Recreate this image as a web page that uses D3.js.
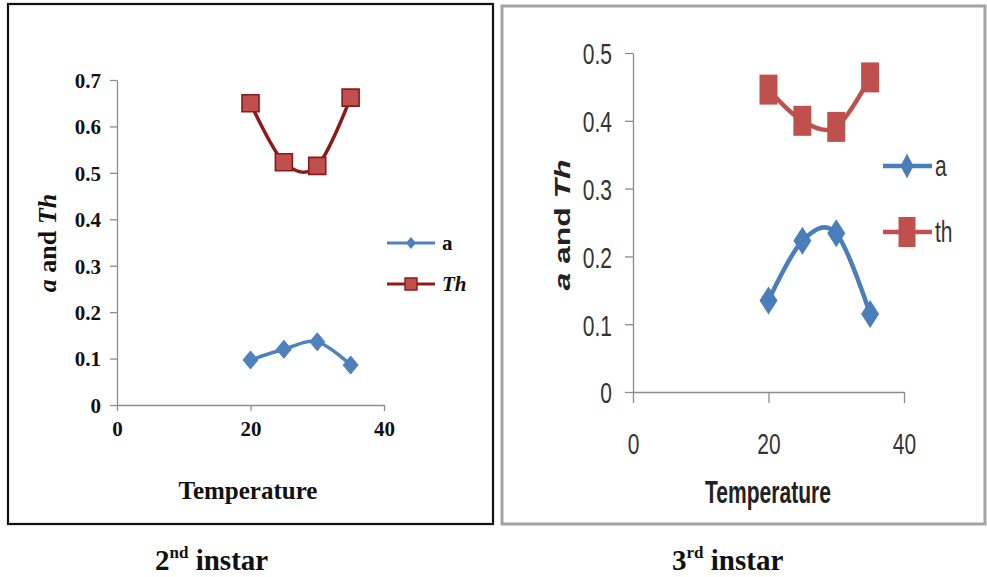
<!DOCTYPE html>
<html>
<head>
<meta charset="utf-8">
<script src="https://cdn.jsdelivr.net/npm/d3@7"></script>
<style>
  html, body { margin: 0; padding: 0; background: #fff; }
  svg { display: block; }
</style>
</head>
<body>
<svg id="chart" width="987" height="577"></svg>
<script>
// ---------- data ----------
const temps = [20, 25, 30, 35];
const xTicks = [0, 20, 40];
// 2nd instar
const a2 = [0.097, 0.120, 0.136, 0.086];
const th2 = [0.650, 0.523, 0.515, 0.662];
const yTicks2 = [0, 0.1, 0.2, 0.3, 0.4, 0.5, 0.6, 0.7];
// 3rd instar
const a3 = [0.135, 0.223, 0.234, 0.115];
const th3 = [0.446, 0.400, 0.391, 0.464];
const yTicks3 = [0, 0.1, 0.2, 0.3, 0.4, 0.5];
const legend2 = ["a", "Th"];
const legend3 = ["a", "th"];
const captions = [["2", "nd", " instar"], ["3", "rd", " instar"]];

const svg = d3.select("#chart");
svg.append("rect").attr("width", 987).attr("height", 577).attr("fill", "#fff");

function diamond(w, h) {
  return `M0,${-h/2}L${w/2},0L0,${h/2}L${-w/2},0Z`;
}
function square(w, h) {
  return `M${-w/2},${-h/2}H${w/2}V${h/2}H${-w/2}Z`;
}

// ---------- panel borders ----------
svg.append("rect").attr("x", 8).attr("y", 4).attr("width", 485).attr("height", 520)
  .attr("fill", "none").attr("stroke", "#111").attr("stroke-width", 2.2);
svg.append("rect").attr("x", 502).attr("y", 6).attr("width", 483).attr("height", 518)
  .attr("fill", "none").attr("stroke", "#a3a3a3").attr("stroke-width", 3);

// ================= LEFT PANEL (2nd instar) =================
const serif = "'Liberation Serif', 'Times New Roman', serif";
const x2 = d3.scaleLinear().domain([0, 40]).range([117, 384]);
const y2 = d3.scaleLinear().domain([0, 0.7]).range([405, 80]);
const L = svg.append("g");

const xAx2 = L.append("g").attr("transform", "translate(0,405)")
  .call(d3.axisBottom(x2).tickValues(xTicks).tickSize(6).tickSizeOuter(0).tickFormat(d3.format("d")));
const yAx2 = L.append("g").attr("transform", "translate(117,0)")
  .call(d3.axisLeft(y2).tickValues(yTicks2).tickSize(7).tickSizeOuter(0)
    .tickFormat(d => d === 0 ? "0" : d3.format(".1f")(d)));
[xAx2, yAx2].forEach(g => {
  g.select(".domain").attr("stroke", "#8c8c8c").attr("stroke-width", 1.3);
  g.selectAll(".tick line").attr("stroke", "#8c8c8c").attr("stroke-width", 1.3);
  g.selectAll(".tick text").attr("fill", "#111").style("font-family", serif)
    .style("font-weight", "bold").style("font-size", "21px");
});
xAx2.selectAll(".tick text").attr("y", 31).attr("dy", 0);
yAx2.selectAll(".tick text").attr("x", -16).attr("dy", "0.35em");

const smooth = d3.curveCardinal.tension(0);
const line2 = d3.line().x((d, i) => x2(temps[i])).y(d => y2(d)).curve(smooth);

L.append("path").attr("d", line2(th2)).attr("fill", "none")
  .attr("stroke", "#8b1a1a").attr("stroke-width", 3.5).attr("stroke-linejoin", "round");
L.append("path").attr("d", line2(a2)).attr("fill", "none")
  .attr("stroke", "#4f81bd").attr("stroke-width", 3.5).attr("stroke-linejoin", "round");

L.selectAll(".th2m").data(th2).enter().append("path")
  .attr("d", square(17, 17))
  .attr("transform", (d, i) => `translate(${x2(temps[i])},${y2(d)})`)
  .attr("fill", "#c0504d").attr("stroke", "#8b1a1a").attr("stroke-width", 1.6);
L.selectAll(".a2m").data(a2).enter().append("path")
  .attr("d", diamond(15, 18))
  .attr("transform", (d, i) => `translate(${x2(temps[i])},${y2(d)})`)
  .attr("fill", "#4f81bd").attr("stroke", "#4f81bd").attr("stroke-width", 1);

// legend left
const lg2 = L.append("g");
[243, 284].forEach((ly, k) => {
  lg2.append("line").attr("x1", 387).attr("x2", 435).attr("y1", ly).attr("y2", ly)
    .attr("stroke", k === 0 ? "#4f81bd" : "#8b1a1a").attr("stroke-width", 3);
  if (k === 0) {
    lg2.append("path").attr("d", diamond(10, 12)).attr("transform", `translate(411,${ly})`)
      .attr("fill", "#4f81bd");
  } else {
    lg2.append("path").attr("d", square(12, 12)).attr("transform", `translate(411,${ly})`)
      .attr("fill", "#c0504d").attr("stroke", "#8b1a1a").attr("stroke-width", 1.4);
  }
  lg2.append("text").attr("x", 442).attr("y", ly).attr("dy", "0.35em")
    .style("font-family", serif).style("font-weight", "bold").style("font-size", "21px")
    .style("font-style", k === 0 ? "normal" : "italic").attr("fill", "#111")
    .text(legend2[k]);
});

// axis titles left
L.append("text").attr("x", 248).attr("y", 499).attr("text-anchor", "middle")
  .style("font-family", serif).style("font-weight", "bold").style("font-size", "25px")
  .attr("fill", "#111").text("Temperature");
const yt2 = L.append("text").attr("transform", "translate(56,243) rotate(-90)")
  .attr("text-anchor", "middle")
  .style("font-family", serif).style("font-weight", "bold").style("font-size", "26px")
  .attr("fill", "#111");
yt2.append("tspan").style("font-style", "italic").text("a");
yt2.append("tspan").text(" and ");
yt2.append("tspan").style("font-style", "italic").text("Th");

// ================= RIGHT PANEL (3rd instar) =================
const sans = "'Liberation Sans', Arial, sans-serif";
const SX = 0.7;
const x3 = d3.scaleLinear().domain([0, 40]).range([633, 904]);
const y3 = d3.scaleLinear().domain([0, 0.5]).range([392, 53]);
const R = svg.append("g");

const xAx3 = R.append("g").attr("transform", "translate(0,392)")
  .call(d3.axisBottom(x3).tickValues(xTicks).tickSize(11).tickSizeOuter(0).tickFormat(d3.format("d")));
const yAx3 = R.append("g").attr("transform", "translate(633,0)")
  .call(d3.axisLeft(y3).tickValues(yTicks3).tickSize(8).tickSizeOuter(0)
    .tickFormat(d => d === 0 ? "0" : d3.format(".1f")(d)));
[xAx3, yAx3].forEach(g => {
  g.select(".domain").attr("stroke", "#8c8c8c").attr("stroke-width", 1.3);
  g.selectAll(".tick line").attr("stroke", "#8c8c8c").attr("stroke-width", 1.3);
  g.selectAll(".tick text").attr("fill", "#333").style("font-family", sans)
    .style("font-weight", "normal").style("font-size", "30px")
    .attr("transform", `scale(${SX},1)`);
});
xAx3.selectAll(".tick text").attr("y", 62).attr("dy", 0);
yAx3.selectAll(".tick text").attr("x", -21 / SX).attr("dy", "0.36em");

const line3 = d3.line().x((d, i) => x3(temps[i])).y(d => y3(d)).curve(smooth);
R.append("path").attr("d", line3(th3)).attr("fill", "none")
  .attr("stroke", "#c0504d").attr("stroke-width", 4.5).attr("stroke-linejoin", "round");
R.append("path").attr("d", line3(a3)).attr("fill", "none")
  .attr("stroke", "#4a7ebb").attr("stroke-width", 4.5).attr("stroke-linejoin", "round");

R.selectAll(".th3m").data(th3).enter().append("path")
  .attr("d", square(18, 30))
  .attr("transform", (d, i) => `translate(${x3(temps[i])},${y3(d)})`)
  .attr("fill", "#c0504d");
R.selectAll(".a3m").data(a3).enter().append("path")
  .attr("d", diamond(18, 28))
  .attr("transform", (d, i) => `translate(${x3(temps[i])},${y3(d)})`)
  .attr("fill", "#4a7ebb");

// legend right
const lg3 = R.append("g");
[166, 232].forEach((ly, k) => {
  lg3.append("line").attr("x1", 883).attr("x2", 932).attr("y1", ly).attr("y2", ly)
    .attr("stroke", k === 0 ? "#4a7ebb" : "#c0504d").attr("stroke-width", 4.5);
  if (k === 0) {
    lg3.append("path").attr("d", diamond(13, 25)).attr("transform", `translate(907,${ly})`)
      .attr("fill", "#4a7ebb");
  } else {
    lg3.append("path").attr("d", square(17, 30)).attr("transform", `translate(907,${ly})`)
      .attr("fill", "#c0504d");
  }
  lg3.append("text").attr("transform", `translate(935,${ly}) scale(${SX},1)`).attr("dy", "0.33em")
    .style("font-family", sans).style("font-size", "30px").attr("fill", "#333")
    .text(legend3[k]);
});

// axis titles right
R.append("text").attr("transform", "translate(768,503) scale(0.68,1)").attr("text-anchor", "middle")
  .style("font-family", sans).style("font-weight", "bold").style("font-size", "31px")
  .attr("fill", "#222").text("Temperature");
const yt3 = R.append("text").attr("transform", "translate(570,225) rotate(-90) scale(1.45,1)")
  .attr("text-anchor", "middle")
  .style("font-family", sans).style("font-weight", "bold").style("font-size", "22px")
  .attr("fill", "#222");
yt3.append("tspan").style("font-style", "italic").text("a");
yt3.append("tspan").text(" and ");
yt3.append("tspan").style("font-style", "italic").text("Th");

// ---------- captions ----------
[[155, 0], [672, 1]].forEach(([cx, k]) => {
  const t = svg.append("text").attr("x", cx).attr("y", 570)
    .style("font-family", serif).style("font-weight", "bold").style("font-size", "29px")
    .attr("fill", "#111");
  t.append("tspan").text(captions[k][0]);
  t.append("tspan").attr("dy", -12).style("font-size", "17px").text(captions[k][1]);
  t.append("tspan").attr("dy", 12).text(captions[k][2]);
});
</script>
</body>
</html>
